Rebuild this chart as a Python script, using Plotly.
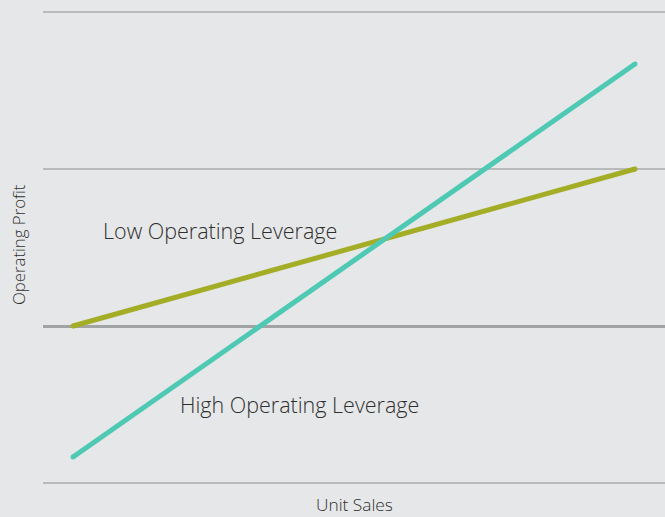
import plotly.graph_objects as go

# Unit sales (normalised) and operating profit for the two cost structures
unit_sales = [0.0, 1.0]
low_leverage_profit = [0.0, 1.0]
high_leverage_profit = [-0.834, 1.669]

series_labels = ["Low Operating Leverage", "High Operating Leverage"]
label_x = [0.049, 0.187]
label_y = [0.610, -0.500]

BG = "#e6e7e8"
GREEN = "#a3ad25"
TEAL = "#4ec9b4"
TEXT = "#2f2f2f"
FONT = "'Open Sans', sans-serif"

fig = go.Figure()
for ys, color in [(low_leverage_profit, GREEN), (high_leverage_profit, TEAL)]:
    fig.add_trace(go.Scatter(
        x=unit_sales, y=ys, mode="lines+markers",
        line=dict(color=color, width=5),
        marker=dict(color=color, size=5, line=dict(width=0)),
        hoverinfo="skip", showlegend=False,
    ))

for text, lx, ly in zip(series_labels, label_x, label_y):
    fig.add_annotation(
        x=lx, y=ly, xref="x", yref="y", text=text, showarrow=False,
        xanchor="left", yanchor="middle",
        font=dict(family=FONT, size=21.5, color=TEXT, weight=300),
    )

# Axis titles
fig.add_annotation(
    x=-25 / 622, y=0.5, xref="paper", yref="paper", text="Operating Profit",
    showarrow=False, textangle=-90, xanchor="center", yanchor="middle",
    font=dict(family=FONT, size=16.8, color=TEXT, weight=300),
)
fig.add_annotation(
    x=0.5, y=-0.029, xref="paper", yref="paper", text="Unit Sales",
    showarrow=False, xanchor="center", yanchor="middle",
    font=dict(family=FONT, size=17.3, color=TEXT, weight=300),
)

fig.update_layout(
    width=665, height=517,
    margin=dict(l=43, r=0, t=0, b=27),
    paper_bgcolor=BG, plot_bgcolor=BG,
    xaxis=dict(range=[-0.0534, 1.0534], showgrid=False, zeroline=False,
               showticklabels=False, ticks="", fixedrange=True),
    yaxis=dict(range=[-1.0446, 2.0764], tick0=0, dtick=1,
               showgrid=True, gridcolor="#b9babb", gridwidth=2,
               zeroline=True, zerolinecolor="#a2a3a4", zerolinewidth=2.5,
               showticklabels=False, ticks="", fixedrange=True),
)

fig.write_html("out.html")
